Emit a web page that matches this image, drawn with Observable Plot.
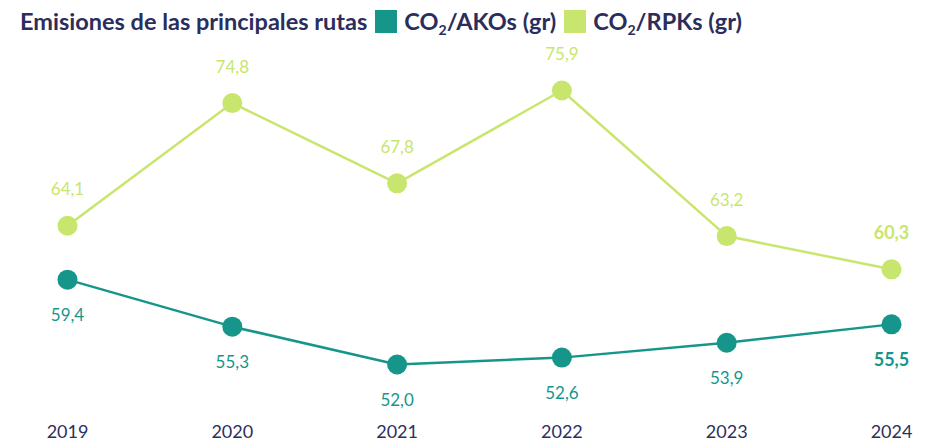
<!DOCTYPE html>
<html><head><meta charset="utf-8">
<script src="https://cdn.jsdelivr.net/npm/d3@7"></script>
<script src="https://cdn.jsdelivr.net/npm/@observablehq/plot@0.6"></script>
<style>
body{margin:0;background:#fff;font-family:Lato,"Open Sans",sans-serif;}
#title{height:42px;display:flex;align-items:center;padding-left:20px;font-weight:bold;font-size:23.5px;color:#2b2d5c;white-space:nowrap;}
.sw{display:inline-block;width:22px;height:23px;margin:0 7px 0 8px;}
sub{font-size:0.6em;vertical-align:-0.35em;line-height:0;}
</style></head><body>
<div id="title"><span>Emisiones de las principales rutas</span>
<span class="sw" style="background:#16968a"></span><span>CO<sub>2</sub>/AKOs (gr)</span>
<span class="sw" style="background:#c8e66e"></span><span>CO<sub>2</sub>/RPKs (gr)</span></div>
<div id="chart"></div>
<script>
const years = [2019, 2020, 2021, 2022, 2023, 2024];
const co2Akos = [59.4, 55.3, 52.0, 52.6, 53.9, 55.5];
const co2Rpks = [64.1, 74.8, 67.8, 75.9, 63.2, 60.3];
const seriesNames = ["CO2/AKOs (gr)", "CO2/RPKs (gr)"];
const colors = ["#16968a", "#c8e66e"];

const rows = [];
years.forEach((y, i) => {
  rows.push({year: y, value: co2Akos[i], series: seriesNames[0], last: i === years.length - 1});
  rows.push({year: y, value: co2Rpks[i], series: seriesNames[1], last: i === years.length - 1});
});
const fmt = v => v.toFixed(1).replace(".", ",");
const A = rows.filter(d => d.series === seriesNames[0]);
const R = rows.filter(d => d.series === seriesNames[1]);

const chart = Plot.plot({
  width: 935,
  height: 404,
  marginLeft: 67,
  marginRight: 44,
  marginTop: 48,
  marginBottom: 82,
  style: {fontFamily: "Lato, 'Open Sans', sans-serif", background: "#fff", overflow: "visible"},
  x: {domain: [2019, 2024], label: null},
  y: {domain: [52.0, 75.9], axis: null},
  marks: [
    Plot.axisX({ticks: years, tickFormat: d => String(d), tickSize: 0, tickPadding: 61, fontSize: 18, color: "#2e2f5e", label: null}),
    Plot.line(A, {x: "year", y: "value", stroke: colors[0], strokeWidth: 2.5}),
    Plot.line(R, {x: "year", y: "value", stroke: colors[1], strokeWidth: 2.5}),
    Plot.dot(A, {x: "year", y: "value", r: 10, fill: colors[0]}),
    Plot.dot(R, {x: "year", y: "value", r: 10, fill: colors[1]}),
    Plot.text(A.filter(d => !d.last), {x: "year", y: "value", text: d => fmt(d.value), dy: 36, fill: colors[0], fontSize: 17}),
    Plot.text(A.filter(d => d.last), {x: "year", y: "value", text: d => fmt(d.value), dy: 36, fill: colors[0], fontSize: 18, fontWeight: "bold"}),
    Plot.text(R.filter(d => !d.last), {x: "year", y: "value", text: d => fmt(d.value), dy: -36, fill: colors[1], fontSize: 17}),
    Plot.text(R.filter(d => d.last), {x: "year", y: "value", text: d => fmt(d.value), dy: -36, fill: colors[1], fontSize: 18, fontWeight: "bold"})
  ]
});
document.getElementById("chart").append(chart);
</script></body></html>
